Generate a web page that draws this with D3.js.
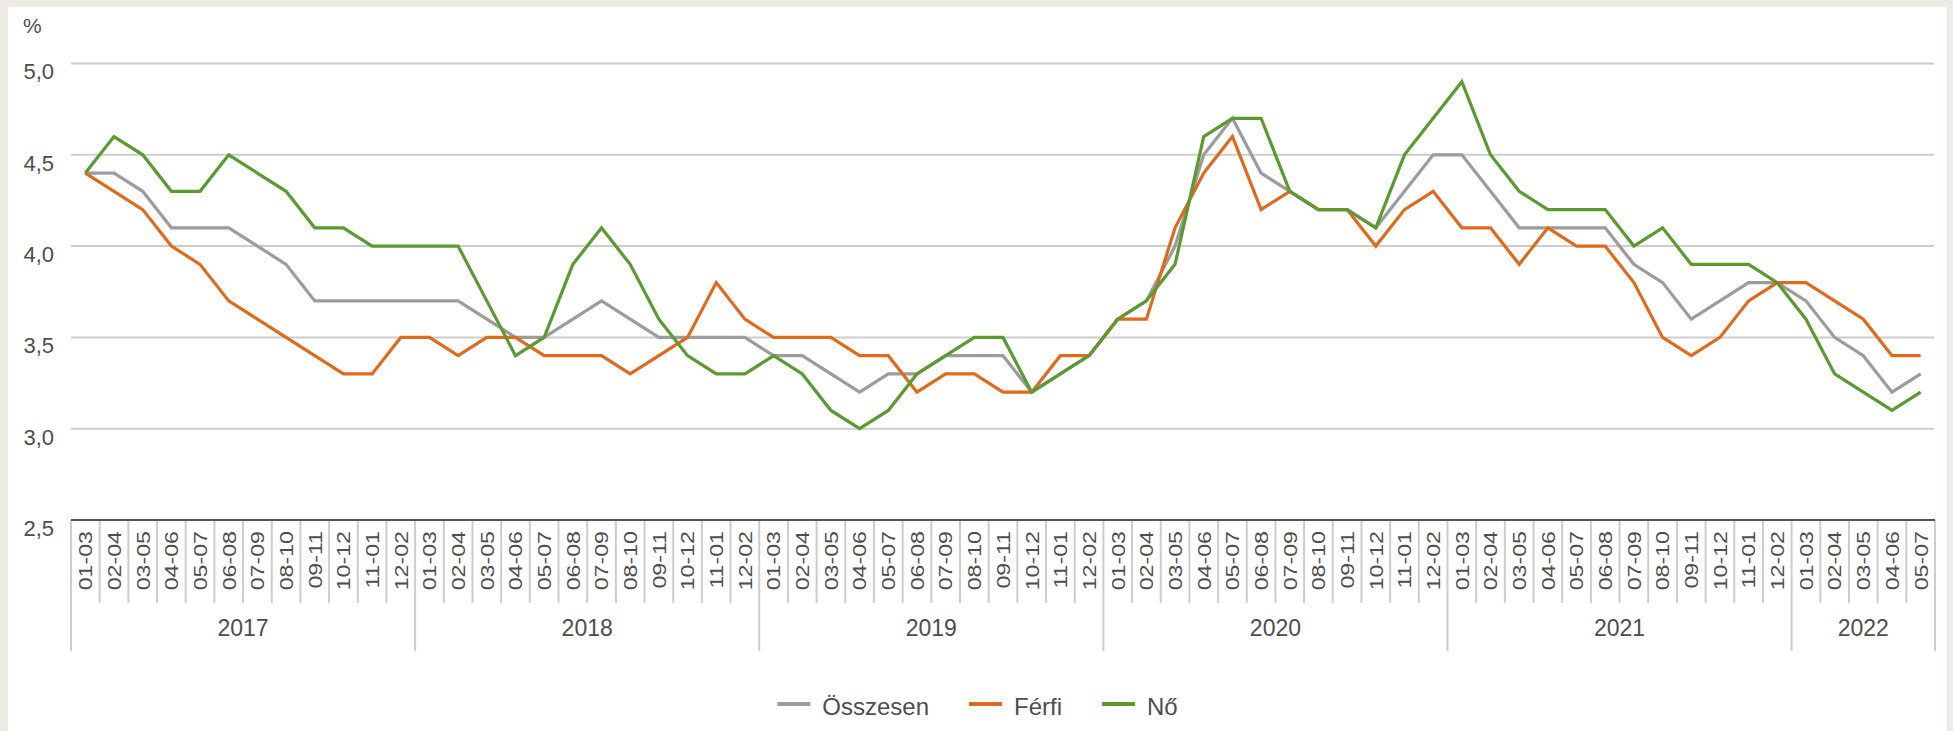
<!DOCTYPE html>
<html>
<head>
<meta charset="utf-8">
<script src="https://cdn.jsdelivr.net/npm/d3@7"></script>
<style>
  body { margin: 0; background: #eeebe4; }
  svg { display: block; }
  text { font-family: "Liberation Sans", Arial, sans-serif; fill: #4d4d4d; }
</style>
</head>
<body>
<div class="chart"></div>
<script>
var periods = ["01-03","02-04","03-05","04-06","05-07","06-08","07-09","08-10","09-11","10-12","11-01","12-02"];
var years = ["2017","2018","2019","2020","2021","2022"];
var yearCounts = [12, 12, 12, 12, 12, 5];

var osszesen = [4.4,4.4,4.3,4.1,4.1,4.1,4.0,3.9,3.7,3.7,3.7,3.7,
  3.7,3.7,3.6,3.5,3.5,3.6,3.7,3.6,3.5,3.5,3.5,3.5,
  3.4,3.4,3.3,3.2,3.3,3.3,3.4,3.4,3.4,3.2,3.3,3.4,
  3.6,3.7,4.0,4.5,4.7,4.4,4.3,4.2,4.2,4.1,4.3,4.5,
  4.5,4.3,4.1,4.1,4.1,4.1,3.9,3.8,3.6,3.7,3.8,3.8,
  3.7,3.5,3.4,3.2,3.3];
var ferfi = [4.4,4.3,4.2,4.0,3.9,3.7,3.6,3.5,3.4,3.3,3.3,3.5,
  3.5,3.4,3.5,3.5,3.4,3.4,3.4,3.3,3.4,3.5,3.8,3.6,
  3.5,3.5,3.5,3.4,3.4,3.2,3.3,3.3,3.2,3.2,3.4,3.4,
  3.6,3.6,4.1,4.4,4.6,4.2,4.3,4.2,4.2,4.0,4.2,4.3,
  4.1,4.1,3.9,4.1,4.0,4.0,3.8,3.5,3.4,3.5,3.7,3.8,
  3.8,3.7,3.6,3.4,3.4];
var no = [4.4,4.6,4.5,4.3,4.3,4.5,4.4,4.3,4.1,4.1,4.0,4.0,
  4.0,4.0,3.7,3.4,3.5,3.9,4.1,3.9,3.6,3.4,3.3,3.3,
  3.4,3.3,3.1,3.0,3.1,3.3,3.4,3.5,3.5,3.2,3.3,3.4,
  3.6,3.7,3.9,4.6,4.7,4.7,4.3,4.2,4.2,4.1,4.5,4.7,
  4.9,4.5,4.3,4.2,4.2,4.2,4.0,4.1,3.9,3.9,3.9,3.8,
  3.6,3.3,3.2,3.1,3.2];

var yTicks = [2.5, 3.0, 3.5, 4.0, 4.5, 5.0];

var seriesNames = ["Összesen", "Férfi", "Nő"];
var seriesColors = ["#9c9c9c", "#e06a1b", "#5b9a2f"];
var seriesData = [osszesen, ferfi, no];

// build the flat list of category labels (period + year)
var cats = [];
years.forEach(function(yr, k) {
  for (var m = 0; m < yearCounts[k]; m++) cats.push({ year: yr, period: periods[m] });
});

var w = 1953, h = 731;
var plotLeft = 71, plotRight = 1935, plotTop = 63.5, plotBottom = 520;

var svg = d3.select(".chart").append("svg")
  .attr("width", w)
  .attr("height", h);

// white panel
svg.append("rect")
  .attr("x", 8).attr("y", 7)
  .attr("width", 1939).attr("height", h)
  .attr("fill", "#fff");

var x = d3.scaleBand()
  .domain(d3.range(cats.length))
  .range([plotLeft, plotRight]);

var y = d3.scaleLinear()
  .domain([2.5, 5])
  .range([plotBottom, plotTop]);

var fmt = function(d) { return d3.format(".1f")(d).replace(".", ","); };

// gridlines
svg.append("g")
  .selectAll("line")
  .data(yTicks.slice(1))
  .enter()
  .append("line")
  .attr("x1", plotLeft).attr("x2", plotRight - 1)
  .attr("y1", function(d) { return y(d); })
  .attr("y2", function(d) { return y(d); })
  .attr("stroke", "#cdcdcd")
  .attr("stroke-width", 2);

// y axis labels
var yAxis = svg.append("g")
  .attr("transform", "translate(" + plotLeft + ",0)")
  .call(d3.axisLeft(y).tickValues(yTicks).tickFormat(fmt).tickSize(0).tickPadding(17));
yAxis.select(".domain").remove();
yAxis.attr("font-family", null).attr("font-size", null);
yAxis.selectAll("text")
  .attr("font-size", 22)
  .attr("fill", "#4d4d4d")
  .attr("dy", "0.7em");

svg.append("text")
  .attr("x", 23).attr("y", 33)
  .attr("font-size", 21)
  .text("%");

// x axis: baseline, category separators, rotated labels
var bw = x.bandwidth();
var xg = svg.append("g");

var bounds = d3.range(cats.length + 1);
var yearStarts = [0];
yearCounts.forEach(function(c, k) { yearStarts.push(yearStarts[k] + c); });

xg.selectAll("line.sep")
  .data(bounds)
  .enter()
  .append("line")
  .attr("class", "sep")
  .attr("x1", function(i) { return plotLeft + i * bw; })
  .attr("x2", function(i) { return plotLeft + i * bw; })
  .attr("y1", plotBottom)
  .attr("y2", function(i) { return yearStarts.indexOf(i) >= 0 ? 651 : 603; })
  .attr("stroke", "#cccccc")
  .attr("stroke-width", 2);

xg.append("line")
  .attr("x1", plotLeft).attr("x2", plotRight)
  .attr("y1", plotBottom).attr("y2", plotBottom)
  .attr("stroke", "#555")
  .attr("stroke-width", 2);

xg.selectAll("text.period")
  .data(cats)
  .enter()
  .append("text")
  .attr("class", "period")
  .attr("transform", function(d, i) {
    return "translate(" + (x(i) + bw / 2) + "," + (plotBottom + 11) + ") rotate(-90) scale(1.22,1)";
  })
  .attr("text-anchor", "end")
  .attr("dy", "0.36em")
  .attr("font-size", 19)
  .text(function(d) { return d.period; });

xg.selectAll("text.year")
  .data(years)
  .enter()
  .append("text")
  .attr("class", "year")
  .attr("x", function(d, k) { return plotLeft + (yearStarts[k] + yearCounts[k] / 2) * bw; })
  .attr("y", 636)
  .attr("text-anchor", "middle")
  .attr("font-size", 23)
  .text(function(d) { return d; });

// lines
var line = d3.line()
  .x(function(d, i) { return x(i) + bw / 2; })
  .y(function(d) { return y(d); });

svg.selectAll("path.series")
  .data(seriesData)
  .enter()
  .append("path")
  .attr("class", "series")
  .attr("d", line)
  .attr("fill", "none")
  .attr("stroke", function(d, k) { return seriesColors[k]; })
  .attr("stroke-width", 3.2)
  .attr("stroke-linejoin", "miter");

// legend, centred on the panel
var legend = svg.append("g");
var items = legend.selectAll("g")
  .data(seriesNames)
  .enter()
  .append("g");
items.append("line")
  .attr("x1", 0).attr("x2", 33)
  .attr("y1", 0).attr("y2", 0)
  .attr("stroke", function(d, k) { return seriesColors[k]; })
  .attr("stroke-width", 4);
items.append("text")
  .attr("x", 45)
  .attr("y", 11)
  .attr("font-size", 24)
  .text(function(d) { return d; });

var pos = 0;
items.each(function() {
  var tw = d3.select(this).select("text").node().getComputedTextLength();
  d3.select(this).attr("transform", "translate(" + pos + ",0)");
  pos += 45 + tw + 40;
});
var total = pos - 40;
legend.attr("transform", "translate(" + (977.5 - total / 2) + ",704)");
</script>
</body>
</html>
